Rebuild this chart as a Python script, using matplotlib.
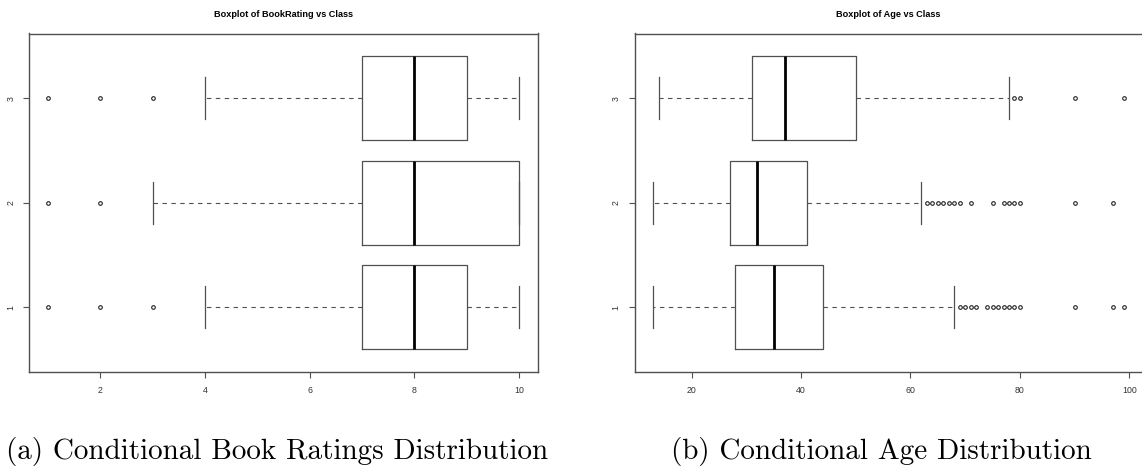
import matplotlib
matplotlib.use('Agg')
import matplotlib.pyplot as plt

# Class labels (y positions)
classes = [1, 2, 3]

# Book rating boxplot stats per class
rating_whislo = [4, 3, 4]
rating_q1 = [7, 7, 7]
rating_med = [8, 8, 8]
rating_q3 = [9, 10, 9]
rating_whishi = [10, 10, 10]
rating_fliers = [[1, 2, 3], [1, 2], [1, 2, 3]]
rating_ticks = [2, 4, 6, 8, 10]

# Age boxplot stats per class
age_whislo = [13, 13, 14]
age_q1 = [28, 27, 31]
age_med = [35, 32, 37]
age_q3 = [44, 41, 50]
age_whishi = [68, 62, 78]
age_fliers = [
    [69, 70, 71, 72, 74, 75, 76, 77, 78, 79, 80, 90, 97, 99],
    [63, 64, 65, 66, 67, 68, 69, 71, 75, 77, 78, 79, 80, 90, 97],
    [79, 80, 90, 99],
]
age_ticks = [20, 40, 60, 80, 100]

W, H = 1142, 468
fig = plt.figure(figsize=(W / 100, H / 100), dpi=100)

edge = '#505050'


def make_stats(lo, q1, med, q3, hi, fl):
    stats = []
    for i in range(len(classes)):
        stats.append({'whislo': lo[i], 'q1': q1[i], 'med': med[i], 'q3': q3[i],
                      'whishi': hi[i], 'fliers': fl[i]})
    return stats


def draw(ax, stats, ticks, xlim, title):
    ax.bxp(stats, positions=classes, widths=0.8, capwidths=0.4, vert=False,
           boxprops=dict(color=edge, linewidth=0.9),
           whiskerprops=dict(color=edge, linewidth=0.8, linestyle=(0, (4, 4))),
           capprops=dict(color=edge, linewidth=0.9),
           medianprops=dict(color='black', linewidth=2.0),
           flierprops=dict(marker='o', markersize=2.6, markerfacecolor='none',
                           markeredgecolor='#222222', markeredgewidth=0.8))
    ax.set_xlim(xlim)
    ax.set_ylim(0.38, 3.62)
    ax.set_xticks(ticks)
    ax.set_yticks(classes)
    ax.set_yticklabels([str(c) for c in classes], rotation=90, va='center')
    for s in ax.spines.values():
        s.set_color(edge)
        s.set_linewidth(1.0)
    ax.tick_params(length=4, width=0.8, color=edge, labelsize=6.3,
                   labelcolor='#333333', pad=6)
    ax.set_title(title, fontsize=6.6, fontweight='bold', family='Liberation Sans',
                 pad=12)
    for lab in ax.get_xticklabels() + ax.get_yticklabels():
        lab.set_family('Liberation Sans')


ax1 = fig.add_axes([29.3 / W, 1 - 372 / H, (538 - 29.3) / W, (372 - 33.5) / H])
draw(ax1, make_stats(rating_whislo, rating_q1, rating_med, rating_q3,
                     rating_whishi, rating_fliers),
     rating_ticks, (0.64, 10.36), 'Boxplot of BookRating vs Class')

ax2 = fig.add_axes([634.5 / W, 1 - 372 / H, (1142.7 - 634.5) / W, (372 - 33.5) / H])
draw(ax2, make_stats(age_whislo, age_q1, age_med, age_q3,
                     age_whishi, age_fliers),
     age_ticks, (9.56, 102.44), 'Boxplot of Age vs Class')

# Captions
fig.text(277.5 / W, 1 - 451 / H, '(a) Conditional Book Ratings Distribution',
         family='cmr10', fontsize=21, ha='center', va='center')
fig.text(881.6 / W, 1 - 451 / H, '(b) Conditional Age Distribution',
         family='cmr10', fontsize=21, ha='center', va='center')

fig.savefig('out.png', dpi=100)
